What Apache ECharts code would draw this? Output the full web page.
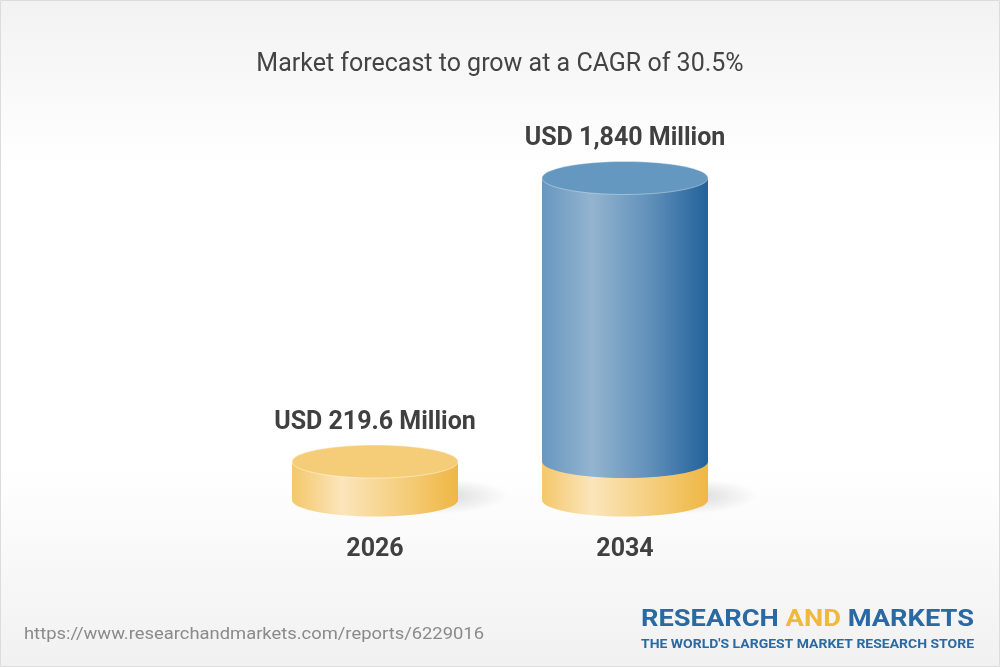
<!DOCTYPE html>
<html>
<head>
<meta charset="utf-8">
<title>Market forecast</title>
<script src="https://cdn.jsdelivr.net/npm/echarts@6/dist/echarts.min.js"></script>
<style>
  html, body { margin: 0; padding: 0; background: #fff; }
  #chart { width: 1000px; height: 667px; }
</style>
</head>
<body>
<div id="chart"></div>
<script>
const years = ["2026", "2034"];
const marketValues = [219.6, 1840];
const baseValues = [219.6, 219.6]; // yellow part of each cylinder
const valueLabels = ["USD 219.6 Million", "USD 1,840 Million"];
const titleText = "Market forecast to grow at a CAGR of 30.5%";
const sourceUrl = "https://www.researchandmarkets.com/reports/6229016";

const FONT = "Roboto, 'Noto Sans', sans-serif";

const yellowGrad = {
  type: "linear", x: 0, y: 0, x2: 1, y2: 0,
  colorStops: [
    { offset: 0, color: "#f4c86a" },
    { offset: 0.3, color: "#fbe5bb" },
    { offset: 0.65, color: "#f5cf80" },
    { offset: 1, color: "#efb744" }
  ]
};
const blueGrad = {
  type: "linear", x: 0, y: 0, x2: 1, y2: 0,
  colorStops: [
    { offset: 0, color: "#6897c0" },
    { offset: 0.3, color: "#93b4cf" },
    { offset: 0.65, color: "#6090ba" },
    { offset: 1, color: "#22629a" }
  ]
};

// fit a text to a given width (the logo font is condensed)
function measure(text, font) {
  const ctx = document.createElement("canvas").getContext("2d");
  ctx.font = font;
  return ctx.measureText(text).width;
}

function renderCylinder(params, api) {
  const idx = api.value(0);
  const val = api.value(1);
  const base = api.value(2);
  const bottom = api.coord([idx, 0]);
  const top = api.coord([idx, val]);
  const mid = api.coord([idx, base]);
  const cx = bottom[0];
  const rx = api.size([1, 0])[0] * 0.332;
  const ry = 16.5;
  const children = [];

  // soft shadow on the floor, peeking out on the right
  // (a circle stretched sideways, so the radial gradient stays elliptic)
  const sr = 18;
  children.push({
    type: "circle",
    x: cx + rx * 0.7,
    y: bottom[1] - 4,
    scaleX: (rx * 0.9) / sr,
    shape: { cx: 0, cy: 0, r: sr },
    style: {
      fill: {
        type: "radial", x: 0.5, y: 0.5, r: 0.5,
        colorStops: [
          { offset: 0, color: "rgba(0,0,0,0.16)" },
          { offset: 0.5, color: "rgba(0,0,0,0.08)" },
          { offset: 1, color: "rgba(0,0,0,0)" }
        ]
      }
    }
  });

  // yellow base
  children.push({
    type: "ellipse",
    shape: { cx: cx, cy: bottom[1], rx: rx, ry: ry },
    style: { fill: yellowGrad }
  });
  children.push({
    type: "rect",
    shape: { x: cx - rx, y: mid[1], width: rx * 2, height: bottom[1] - mid[1] },
    style: { fill: yellowGrad }
  });

  let topY = mid[1];
  if (val > base) {
    children.push({
      type: "ellipse",
      shape: { cx: cx, cy: mid[1], rx: rx, ry: ry },
      style: { fill: blueGrad }
    });
    children.push({
      type: "rect",
      shape: { x: cx - rx, y: top[1], width: rx * 2, height: mid[1] - top[1] },
      style: { fill: blueGrad }
    });
    children.push({
      type: "ellipse",
      shape: { cx: cx, cy: top[1], rx: rx, ry: ry },
      style: { fill: "#6598c0", stroke: "rgba(255,255,255,0.35)", lineWidth: 1 }
    });
    topY = top[1];
  } else {
    children.push({
      type: "ellipse",
      shape: { cx: cx, cy: mid[1], rx: rx, ry: ry },
      style: { fill: "#f5cd78", stroke: "rgba(255,255,255,0.45)", lineWidth: 1 }
    });
  }

  children.push({
    type: "text",
    style: {
      x: cx,
      y: topY - ry - 22.5,
      text: valueLabels[idx],
      fill: "#404040",
      font: "bold 25px " + FONT,
      align: "center",
      verticalAlign: "middle"
    }
  });

  return { type: "group", children: children };
}

const chart = echarts.init(document.getElementById("chart"));

const logoMain = "RESEARCH AND MARKETS";
const logoSub = "THE WORLD'S LARGEST MARKET RESEARCH STORE";
const logoScale = 333 / measure(logoMain, "bold 23px " + FONT);
const subScale = 333 / measure(logoSub, "bold 13px " + FONT);
const urlScale = 460 / measure(sourceUrl, "17px " + FONT);

chart.setOption({
  backgroundColor: {
    type: "linear", x: 0, y: 0, x2: 0, y2: 1,
    colorStops: [
      { offset: 0, color: "#f2f2f2" },
      { offset: 0.25, color: "#ffffff" },
      { offset: 0.7, color: "#ffffff" },
      { offset: 1, color: "#f1f1f1" }
    ]
  },
  animation: false,
  title: {
    text: titleText,
    left: "center",
    top: 47,
    textStyle: { fontFamily: FONT, fontSize: 25, fontWeight: "normal", color: "#444" }
  },
  grid: { left: 250, right: 250, top: 150, bottom: 167 },
  xAxis: {
    type: "category",
    data: years,
    axisLine: { show: false },
    axisTick: { show: false },
    axisLabel: {
      margin: 37,
      fontFamily: FONT,
      fontSize: 25,
      fontWeight: "bold",
      color: "#404040"
    }
  },
  yAxis: {
    type: "value",
    min: 0,
    max: 2000,
    show: false,
    splitLine: { show: false }
  },
  series: [
    {
      type: "custom",
      renderItem: renderCylinder,
      encode: { x: 0, y: 1 },
      data: years.map((y, i) => [i, marketValues[i], baseValues[i]]),
      z: 2
    }
  ],
  graphic: [
    {
      type: "rect",
      shape: { x: 0.5, y: 0.5, width: 999, height: 666 },
      style: { fill: "none", stroke: "#dcdcdc", lineWidth: 1 },
      silent: true
    },
    {
      type: "text",
      x: 24,
      y: 635,
      scaleX: urlScale,
      style: {
        text: sourceUrl,
        font: "17px " + FONT,
        fill: "#8a8a8a",
        align: "left",
        verticalAlign: "middle"
      }
    },
    {
      type: "text",
      x: 641,
      y: 620,
      scaleX: logoScale,
      style: {
        text: "{b|RESEARCH }{g|AND}{b| MARKETS}",
        align: "left",
        verticalAlign: "middle",
        rich: {
          b: { font: "bold 23px " + FONT, fill: "#2a69a1" },
          g: { font: "bold 23px " + FONT, fill: "#f1b93b" }
        }
      }
    },
    {
      type: "text",
      x: 641,
      y: 645,
      scaleX: subScale,
      style: {
        text: logoSub,
        font: "bold 13px " + FONT,
        fill: "#2a69a1",
        align: "left",
        verticalAlign: "middle"
      }
    }
  ]
});
</script>
</body>
</html>
